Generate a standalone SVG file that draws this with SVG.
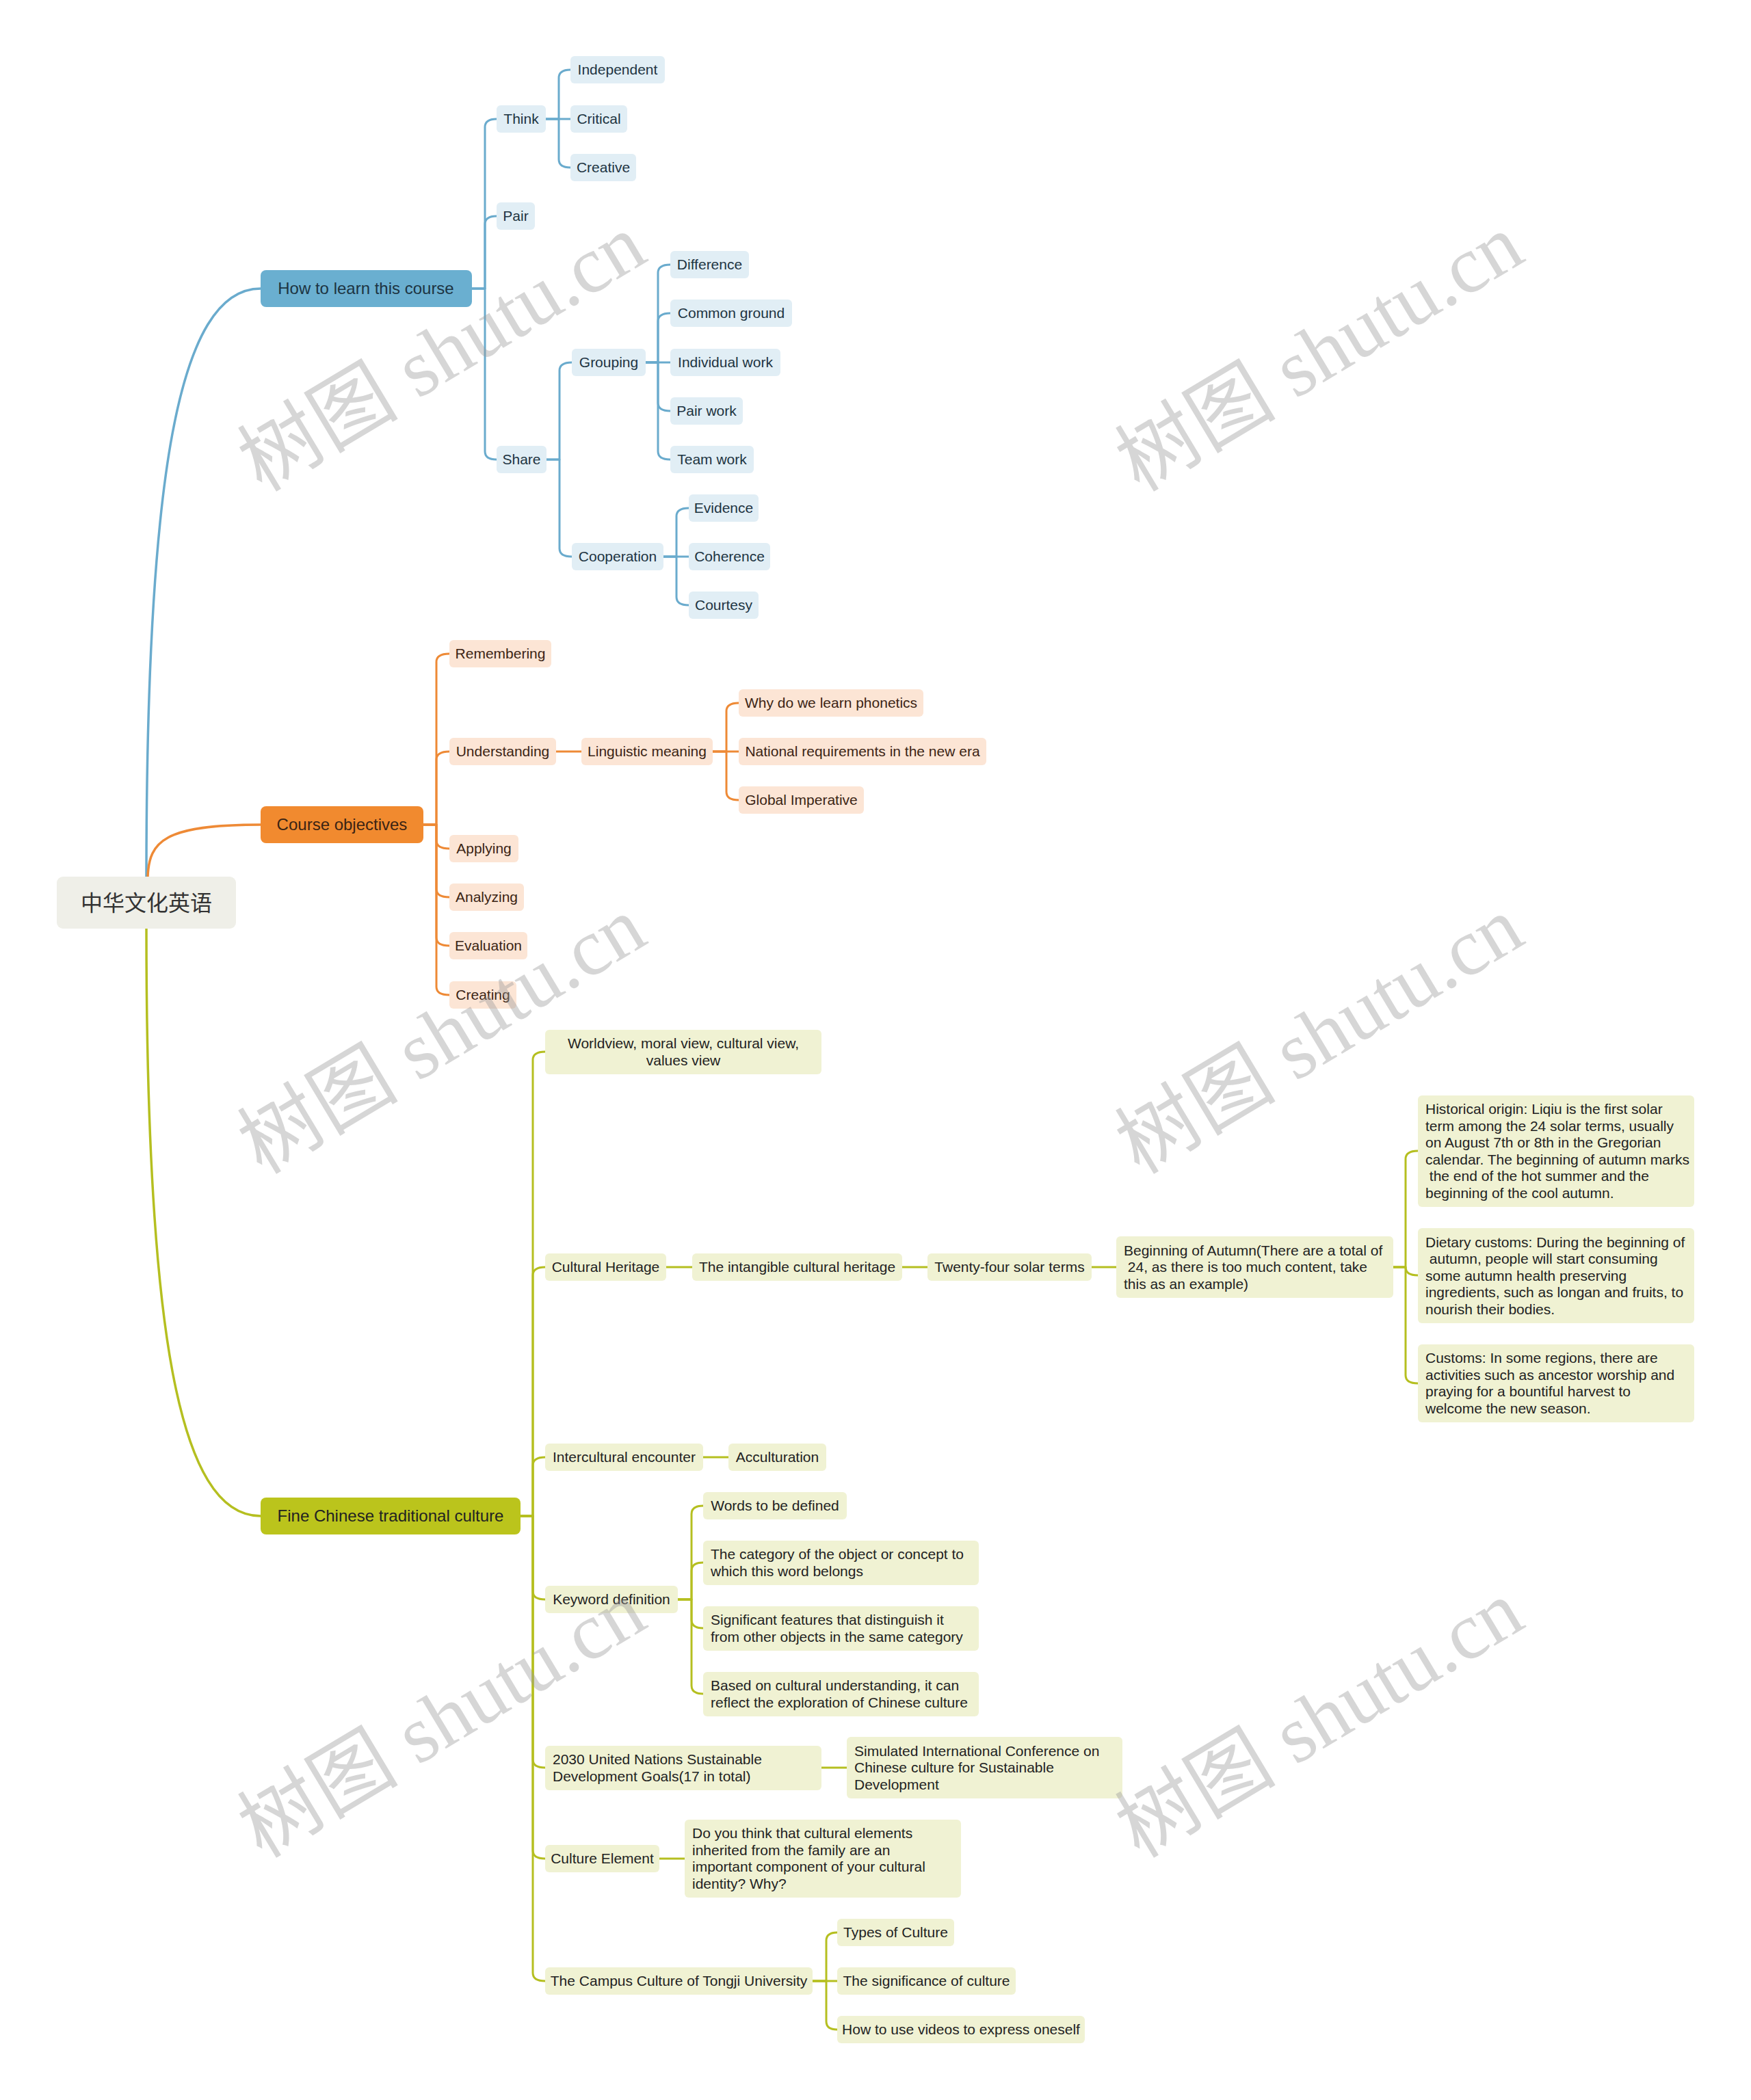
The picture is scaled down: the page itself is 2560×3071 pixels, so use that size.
<svg xmlns="http://www.w3.org/2000/svg" width="2560" height="3071" viewBox="0 0 2560 3071">
<style>
text{font-family:"Liberation Sans",Arial,sans-serif;font-size:21px;fill:#222}
.c{text-anchor:middle}
.big{font-size:24px}
.root{font-family:"Noto Sans CJK SC",sans-serif;font-size:32px;fill:#333}
.bm{fill:#6AAFD0}.bs{fill:#E1EEF5}
.om{fill:#F18A2F}.os{fill:#FCE5D5}
.gm{fill:#BBC41C}.gs{fill:#F0F2D3}
.bt{fill:#1d3442}.ot{fill:#3b2414}.gt{fill:#222}
.lb,.lo,.lg{fill:none;stroke-linecap:round;stroke-linejoin:round}
.lb{stroke:#6AABCD;stroke-width:3}
.lo{stroke:#EE8A36;stroke-width:3}
.lg{stroke:#B5BF20;stroke-width:3}
.main{stroke-width:3.5}
.wm{font-family:"Liberation Serif","Noto Sans CJK SC",serif;font-size:118px;fill:#9a9a9a;opacity:.4;text-anchor:middle}
</style>
<rect x="0" y="0" width="2560" height="3071" fill="#fff"/>
<g id="connectors">
<path class="lb main" d="M214 1282 C214 700 260 422 381 422"/>
<path class="lo main" d="M216 1282 C218 1230 240 1206 381 1206"/>
<path class="lg main" d="M214 1358 C214 1940 260 2217 381 2217"/>
<path class="lb" d="M690 422 H709 V186 Q709 174 726 174"/>
<path class="lb" d="M690 422 H709 V328 Q709 316 726 316"/>
<path class="lb" d="M690 422 H709 V660 Q709 672 726 672"/>
<path class="lb" d="M798 174 H817 V114 Q817 102 834 102"/>
<path class="lb" d="M798 174 H834"/>
<path class="lb" d="M798 174 H817 V233 Q817 245 834 245"/>
<path class="lb" d="M799 672 H818 V542 Q818 530 836 530"/>
<path class="lb" d="M799 672 H818 V802 Q818 814 836 814"/>
<path class="lb" d="M944 530 H962 V399 Q962 387 980 387"/>
<path class="lb" d="M944 530 H962 V470 Q962 458 980 458"/>
<path class="lb" d="M944 530 H980"/>
<path class="lb" d="M944 530 H962 V589 Q962 601 980 601"/>
<path class="lb" d="M944 530 H962 V660 Q962 672 980 672"/>
<path class="lb" d="M970 814 H989 V755 Q989 743 1007 743"/>
<path class="lb" d="M970 814 H1007"/>
<path class="lb" d="M970 814 H989 V873 Q989 885 1007 885"/>
<path class="lo" d="M619 1206 H638 V968 Q638 956 657 956"/>
<path class="lo" d="M619 1206 H638 V1111 Q638 1099 657 1099"/>
<path class="lo" d="M619 1206 H638 V1229 Q638 1241 657 1241"/>
<path class="lo" d="M619 1206 H638 V1300 Q638 1312 657 1312"/>
<path class="lo" d="M619 1206 H638 V1371 Q638 1383 657 1383"/>
<path class="lo" d="M619 1206 H638 V1443 Q638 1455 657 1455"/>
<path class="lo" d="M813 1099 H850"/>
<path class="lo" d="M1042 1099 H1062 V1040 Q1062 1028 1080 1028"/>
<path class="lo" d="M1042 1099 H1080"/>
<path class="lo" d="M1042 1099 H1062 V1158 Q1062 1170 1080 1170"/>
<path class="lg" d="M761 2217 H779 V1550 Q779 1538 797 1538"/>
<path class="lg" d="M761 2217 H779 V1865 Q779 1853 797 1853"/>
<path class="lg" d="M761 2217 H779 V2143 Q779 2131 797 2131"/>
<path class="lg" d="M761 2217 H779 V2327 Q779 2339 797 2339"/>
<path class="lg" d="M761 2217 H779 V2573 Q779 2585 797 2585"/>
<path class="lg" d="M761 2217 H779 V2706 Q779 2718 797 2718"/>
<path class="lg" d="M761 2217 H779 V2885 Q779 2897 797 2897"/>
<path class="lg" d="M974 1853 H1012"/>
<path class="lg" d="M1319 1853 H1356"/>
<path class="lg" d="M1596 1853 H1632"/>
<path class="lg" d="M2037 1853 H2055 V1695 Q2055 1683 2073 1683"/>
<path class="lg" d="M2037 1853 H2055 Q2055 1865 2073 1865"/>
<path class="lg" d="M2037 1853 H2055 V2011 Q2055 2023 2073 2023"/>
<path class="lg" d="M1028 2131 H1065"/>
<path class="lg" d="M991 2339 H1011 V2214 Q1011 2202 1028 2202"/>
<path class="lg" d="M991 2339 H1011 V2297 Q1011 2285 1028 2285"/>
<path class="lg" d="M991 2339 H1011 V2369 Q1011 2381 1028 2381"/>
<path class="lg" d="M991 2339 H1011 V2465 Q1011 2477 1028 2477"/>
<path class="lg" d="M1201 2585 H1238"/>
<path class="lg" d="M964 2718 H1001"/>
<path class="lg" d="M1188 2897 H1208 V2838 Q1208 2826 1224 2826"/>
<path class="lg" d="M1188 2897 H1224"/>
<path class="lg" d="M1188 2897 H1208 V2956 Q1208 2968 1224 2968"/>
</g>
<g id="root"><rect x="83" y="1282" width="262" height="76" rx="9" fill="#EFEFE8"/><text class="root c" x="214" y="1332">中华文化英语</text></g>
<g id="n-how"><rect class="bm" x="381" y="395" width="309" height="54" rx="8"/><text class="big c bt" x="535" y="430">How to learn this course</text></g>
<g id="n-think"><rect class="bs" x="726" y="154" width="72" height="40" rx="6"/><text class="c bt" x="762" y="181">Think</text></g>
<g id="n-independent"><rect class="bs" x="834" y="82" width="138" height="40" rx="6"/><text class="c bt" x="903" y="109">Independent</text></g>
<g id="n-critical"><rect class="bs" x="834" y="154" width="83" height="40" rx="6"/><text class="c bt" x="875.5" y="181">Critical</text></g>
<g id="n-creative"><rect class="bs" x="834" y="225" width="96" height="40" rx="6"/><text class="c bt" x="882" y="252">Creative</text></g>
<g id="n-pair"><rect class="bs" x="726" y="296" width="56" height="40" rx="6"/><text class="c bt" x="754" y="323">Pair</text></g>
<g id="n-share"><rect class="bs" x="726" y="652" width="73" height="40" rx="6"/><text class="c bt" x="762.5" y="679">Share</text></g>
<g id="n-grouping"><rect class="bs" x="836" y="510" width="108" height="40" rx="6"/><text class="c bt" x="890" y="537">Grouping</text></g>
<g id="n-difference"><rect class="bs" x="980" y="367" width="115" height="40" rx="6"/><text class="c bt" x="1037.5" y="394">Difference</text></g>
<g id="n-common"><rect class="bs" x="980" y="438" width="178" height="40" rx="6"/><text class="c bt" x="1069" y="465">Common ground</text></g>
<g id="n-individual"><rect class="bs" x="980" y="510" width="161" height="40" rx="6"/><text class="c bt" x="1060.5" y="537">Individual work</text></g>
<g id="n-pairwork"><rect class="bs" x="980" y="581" width="106" height="40" rx="6"/><text class="c bt" x="1033" y="608">Pair work</text></g>
<g id="n-teamwork"><rect class="bs" x="980" y="652" width="122" height="40" rx="6"/><text class="c bt" x="1041" y="679">Team work</text></g>
<g id="n-cooperation"><rect class="bs" x="836" y="794" width="134" height="40" rx="6"/><text class="c bt" x="903" y="821">Cooperation</text></g>
<g id="n-evidence"><rect class="bs" x="1007" y="723" width="102" height="40" rx="6"/><text class="c bt" x="1058" y="750">Evidence</text></g>
<g id="n-coherence"><rect class="bs" x="1007" y="794" width="119" height="40" rx="6"/><text class="c bt" x="1066.5" y="821">Coherence</text></g>
<g id="n-courtesy"><rect class="bs" x="1007" y="865" width="102" height="40" rx="6"/><text class="c bt" x="1058" y="892">Courtesy</text></g>
<g id="n-objectives"><rect class="om" x="381" y="1179" width="238" height="54" rx="8"/><text class="big c ot" x="500" y="1214">Course objectives</text></g>
<g id="n-remembering"><rect class="os" x="657" y="936" width="149" height="40" rx="6"/><text class="c ot" x="731.5" y="963">Remembering</text></g>
<g id="n-understanding"><rect class="os" x="657" y="1079" width="156" height="40" rx="6"/><text class="c ot" x="735" y="1106">Understanding</text></g>
<g id="n-linguistic"><rect class="os" x="850" y="1079" width="192" height="40" rx="6"/><text class="c ot" x="946" y="1106">Linguistic meaning</text></g>
<g id="n-phonetics"><rect class="os" x="1080" y="1008" width="270" height="40" rx="6"/><text class="c ot" x="1215" y="1035">Why do we learn phonetics</text></g>
<g id="n-national"><rect class="os" x="1080" y="1079" width="362" height="40" rx="6"/><text class="c ot" x="1261" y="1106">National requirements in the new era</text></g>
<g id="n-global"><rect class="os" x="1080" y="1150" width="183" height="40" rx="6"/><text class="c ot" x="1171.5" y="1177">Global Imperative</text></g>
<g id="n-applying"><rect class="os" x="657" y="1221" width="101" height="40" rx="6"/><text class="c ot" x="707.5" y="1248">Applying</text></g>
<g id="n-analyzing"><rect class="os" x="657" y="1292" width="109" height="40" rx="6"/><text class="c ot" x="711.5" y="1319">Analyzing</text></g>
<g id="n-evaluation"><rect class="os" x="657" y="1363" width="114" height="40" rx="6"/><text class="c ot" x="714" y="1390">Evaluation</text></g>
<g id="n-creating"><rect class="os" x="657" y="1435" width="98" height="40" rx="6"/><text class="c ot" x="706" y="1462">Creating</text></g>
<g id="n-fine"><rect class="gm" x="381" y="2190" width="380" height="54" rx="8"/><text class="big c gt" x="571" y="2225">Fine Chinese traditional culture</text></g>
<g id="n-worldview"><rect class="gs" x="797" y="1506" width="404" height="65" rx="6"/><text class="c gt" x="999" y="1533">Worldview, moral view, cultural view,</text><text class="c gt" x="999" y="1558">values view</text></g>
<g id="n-heritage"><rect class="gs" x="797" y="1833" width="177" height="40" rx="6"/><text class="c gt" x="885.5" y="1860">Cultural Heritage</text></g>
<g id="n-intangible"><rect class="gs" x="1012" y="1833" width="307" height="40" rx="6"/><text class="c gt" x="1165.5" y="1860">The intangible cultural heritage</text></g>
<g id="n-solar"><rect class="gs" x="1356" y="1833" width="240" height="40" rx="6"/><text class="c gt" x="1476" y="1860">Twenty-four solar terms</text></g>
<g id="n-autumn"><rect class="gs" x="1632" y="1808" width="405" height="90" rx="6"/><text class="gt" x="1643" y="1836">Beginning of Autumn(There are a total of</text><text class="gt" x="1643" y="1860">&#160;24, as there is too much content, take</text><text class="gt" x="1643" y="1885">this as an example)</text></g>
<g id="n-historical"><rect class="gs" x="2073" y="1602" width="404" height="163" rx="6"/><text class="gt" x="2084" y="1629">Historical origin: Liqiu is the first solar</text><text class="gt" x="2084" y="1654">term among the 24 solar terms, usually</text><text class="gt" x="2084" y="1678">on August 7th or 8th in the Gregorian</text><text class="gt" x="2084" y="1703">calendar. The beginning of autumn marks</text><text class="gt" x="2084" y="1727">&#160;the end of the hot summer and the</text><text class="gt" x="2084" y="1752">beginning of the cool autumn.</text></g>
<g id="n-dietary"><rect class="gs" x="2073" y="1796" width="404" height="139" rx="6"/><text class="gt" x="2084" y="1824">Dietary customs: During the beginning of</text><text class="gt" x="2084" y="1848">&#160;autumn, people will start consuming</text><text class="gt" x="2084" y="1873">some autumn health preserving</text><text class="gt" x="2084" y="1897">ingredients, such as longan and fruits, to</text><text class="gt" x="2084" y="1922">nourish their bodies.</text></g>
<g id="n-customs"><rect class="gs" x="2073" y="1966" width="404" height="114" rx="6"/><text class="gt" x="2084" y="1993">Customs: In some regions, there are</text><text class="gt" x="2084" y="2018">activities such as ancestor worship and</text><text class="gt" x="2084" y="2042">praying for a bountiful harvest to</text><text class="gt" x="2084" y="2067">welcome the new season.</text></g>
<g id="n-intercultural"><rect class="gs" x="797" y="2111" width="231" height="40" rx="6"/><text class="c gt" x="912.5" y="2138">Intercultural encounter</text></g>
<g id="n-acculturation"><rect class="gs" x="1065" y="2111" width="143" height="40" rx="6"/><text class="c gt" x="1136.5" y="2138">Acculturation</text></g>
<g id="n-keyword"><rect class="gs" x="797" y="2319" width="194" height="40" rx="6"/><text class="c gt" x="894" y="2346">Keyword definition</text></g>
<g id="n-words"><rect class="gs" x="1028" y="2182" width="210" height="40" rx="6"/><text class="c gt" x="1133" y="2209">Words to be defined</text></g>
<g id="n-category"><rect class="gs" x="1028" y="2253" width="403" height="65" rx="6"/><text class="gt" x="1039" y="2280">The category of the object or concept to</text><text class="gt" x="1039" y="2305">which this word belongs</text></g>
<g id="n-significant"><rect class="gs" x="1028" y="2349" width="403" height="65" rx="6"/><text class="gt" x="1039" y="2376">Significant features that distinguish it</text><text class="gt" x="1039" y="2401">from other objects in the same category</text></g>
<g id="n-based"><rect class="gs" x="1028" y="2445" width="403" height="65" rx="6"/><text class="gt" x="1039" y="2472">Based on cultural understanding, it can</text><text class="gt" x="1039" y="2497">reflect the exploration of Chinese culture</text></g>
<g id="n-sdg"><rect class="gs" x="797" y="2553" width="404" height="65" rx="6"/><text class="gt" x="808" y="2580">2030 United Nations Sustainable</text><text class="gt" x="808" y="2605">Development Goals(17 in total)</text></g>
<g id="n-simulated"><rect class="gs" x="1238" y="2540" width="403" height="90" rx="6"/><text class="gt" x="1249" y="2568">Simulated International Conference on</text><text class="gt" x="1249" y="2592">Chinese culture for Sustainable</text><text class="gt" x="1249" y="2617">Development</text></g>
<g id="n-element"><rect class="gs" x="797" y="2698" width="167" height="40" rx="6"/><text class="c gt" x="880.5" y="2725">Culture Element</text></g>
<g id="n-question"><rect class="gs" x="1001" y="2661" width="404" height="114" rx="6"/><text class="gt" x="1012" y="2688">Do you think that cultural elements</text><text class="gt" x="1012" y="2713">inherited from the family are an</text><text class="gt" x="1012" y="2737">important component of your cultural</text><text class="gt" x="1012" y="2762">identity? Why?</text></g>
<g id="n-campus"><rect class="gs" x="797" y="2877" width="391" height="40" rx="6"/><text class="c gt" x="992.5" y="2904">The Campus Culture of Tongji University</text></g>
<g id="n-types"><rect class="gs" x="1224" y="2806" width="171" height="40" rx="6"/><text class="c gt" x="1309.5" y="2833">Types of Culture</text></g>
<g id="n-significance"><rect class="gs" x="1224" y="2877" width="261" height="40" rx="6"/><text class="c gt" x="1354.5" y="2904">The significance of culture</text></g>
<g id="n-videos"><rect class="gs" x="1224" y="2948" width="362" height="40" rx="6"/><text class="c gt" x="1405" y="2975">How to use videos to express oneself</text></g>
<g id="watermark">
<text class="wm" transform="translate(646 516) rotate(-31)" y="40">树图 shutu.cn</text>
<text class="wm" transform="translate(1929 516) rotate(-31)" y="40">树图 shutu.cn</text>
<text class="wm" transform="translate(646 1514) rotate(-31)" y="40">树图 shutu.cn</text>
<text class="wm" transform="translate(1929 1514) rotate(-31)" y="40">树图 shutu.cn</text>
<text class="wm" transform="translate(646 2514) rotate(-31)" y="40">树图 shutu.cn</text>
<text class="wm" transform="translate(1929 2514) rotate(-31)" y="40">树图 shutu.cn</text>
</g>
</svg>
